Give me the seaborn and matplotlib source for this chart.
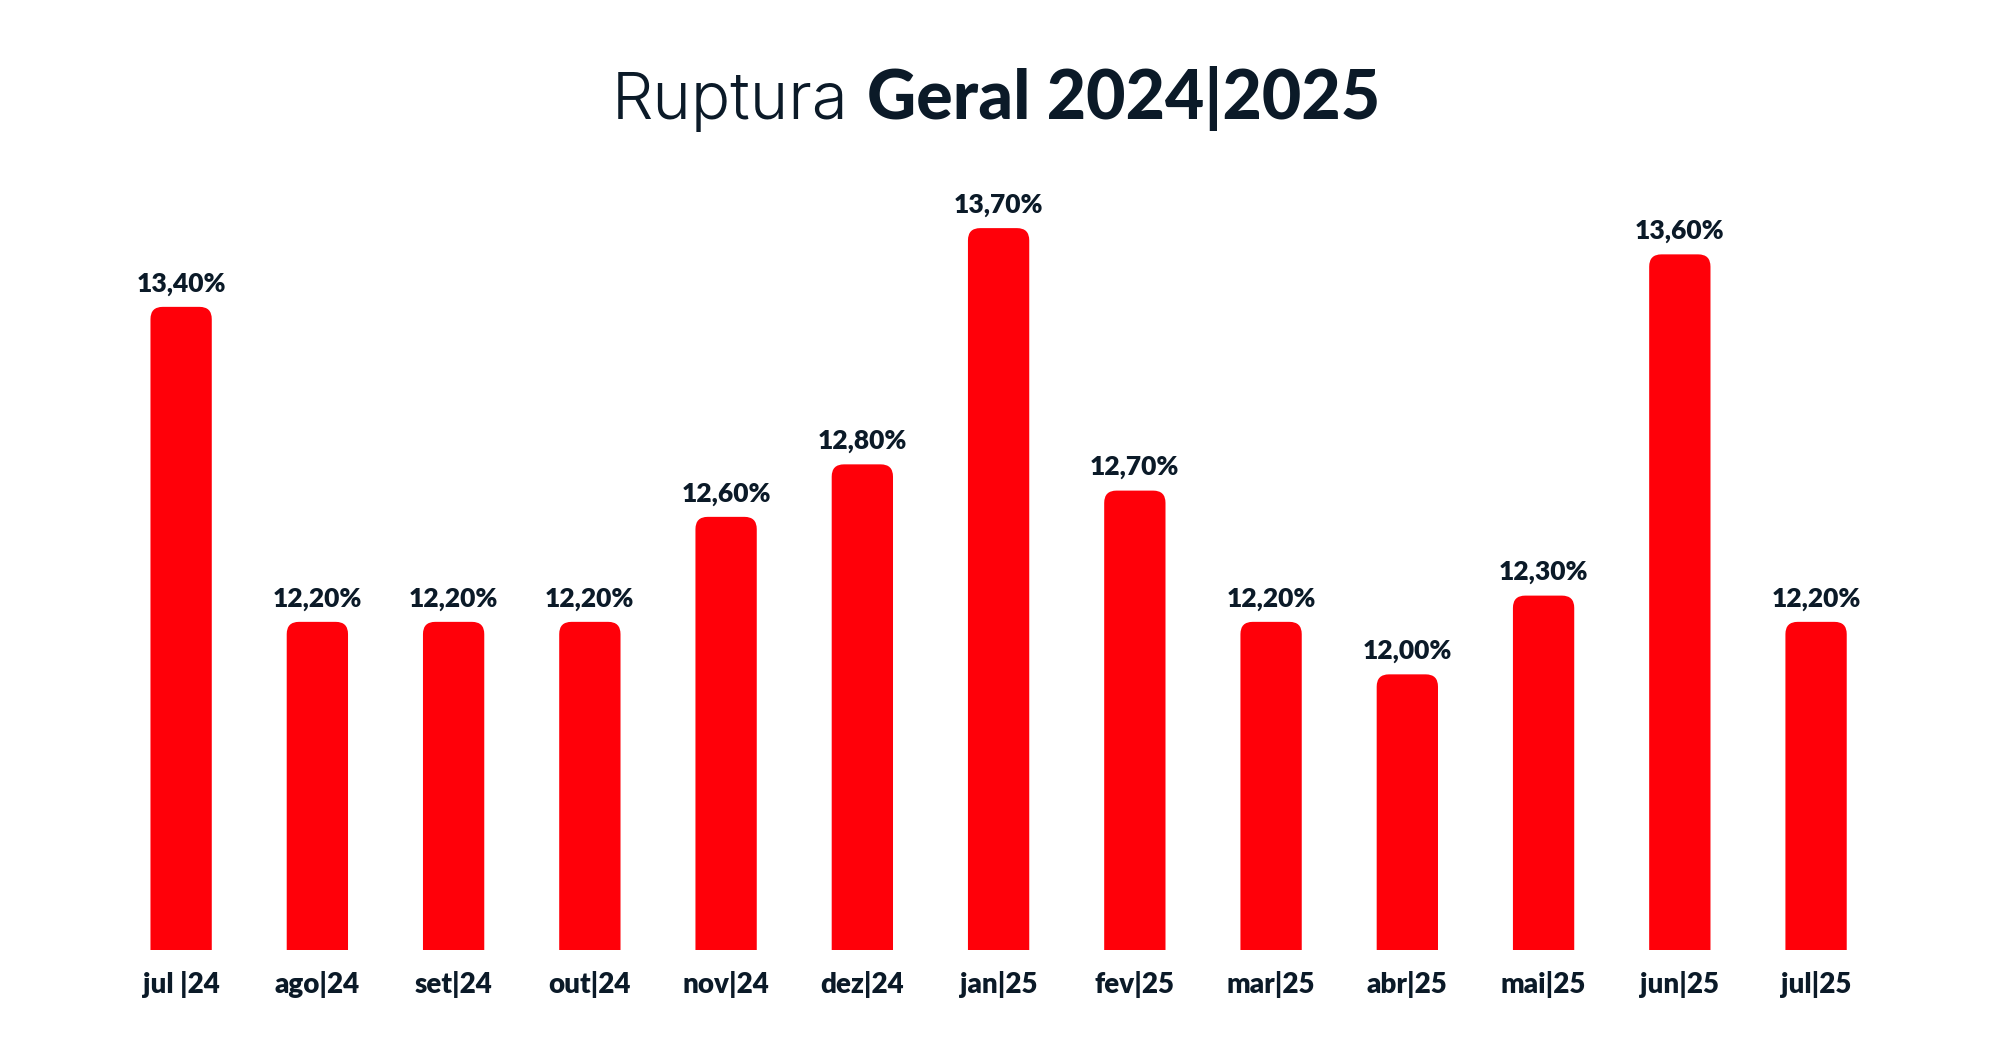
from matplotlib import pyplot as plt
from matplotlib.patches import FancyBboxPatch
import seaborn as sns
import pandas as pd

# dados
meses = ["jul |24", "ago|24", "set|24", "out|24", "nov|24", "dez|24", "jan|25",
         "fev|25", "mar|25", "abr|25", "mai|25", "jun|25", "jul|25"]
ruptura = [13.4, 12.2, 12.2, 12.2, 12.6, 12.8, 13.7, 12.7, 12.2, 12.0, 12.3, 13.6, 12.2]
rotulos = ["13,40%", "12,20%", "12,20%", "12,20%", "12,60%", "12,80%", "13,70%",
           "12,70%", "12,20%", "12,00%", "12,30%", "13,60%", "12,20%"]

df = pd.DataFrame({"mes": meses, "ruptura": ruptura})

vermelho = "#ff0009"
escuro = "#0b1a28"

sns.set_style("white")
plt.rcParams['font.family'] = ['Lato', 'DejaVu Sans']

fig = plt.figure(figsize=(20, 10.6), dpi=100)
ax = fig.add_axes([0.0565, 0.1038, 0.8856, 0.681])

sns.barplot(data=df, x="mes", y="ruptura", color=vermelho, width=0.45,
            saturation=1, ax=ax)
ax.set_xlim(-0.5, 12.5)
ax.set_ylim(10.95, 13.7)

# trocar as barras por barras com cantos arredondados
aspecto = (2.75 / 722) * 136.25
for p in list(ax.patches):
    x, w, h = p.get_x(), p.get_width(), p.get_height()
    p.set_visible(False)
    rb = FancyBboxPatch((x, 9.0), w, h - 9.0,
                        boxstyle="round,pad=0,rounding_size=0.09",
                        mutation_aspect=aspecto, facecolor=vermelho,
                        edgecolor="none")
    ax.add_patch(rb)

for i, (v, t) in enumerate(zip(ruptura, rotulos)):
    ax.annotate(t, (i, v), xytext=(0, 8), textcoords="offset points",
                ha="center", va="bottom", fontsize=19, fontweight="heavy",
                color=escuro, annotation_clip=False)

sns.despine(left=True, bottom=True)
ax.set_yticks([])
ax.set_xlabel("")
ax.set_ylabel("")
ax.tick_params(axis="x", length=0, pad=15)
for lb in ax.get_xticklabels():
    lb.set_fontsize(20)
    lb.set_fontweight("heavy")
    lb.set_color(escuro)

fig.text(0.424, 0.888, "Ruptura", ha="right", va="baseline", fontsize=47,
         family=["Inter", "DejaVu Sans"], fontweight=300, color=escuro)
fig.text(0.4335, 0.888, "Geral 2024|2025", ha="left", va="baseline", fontsize=49,
         fontweight="black", color=escuro)

fig.savefig("out.png", dpi=100, facecolor="white")
